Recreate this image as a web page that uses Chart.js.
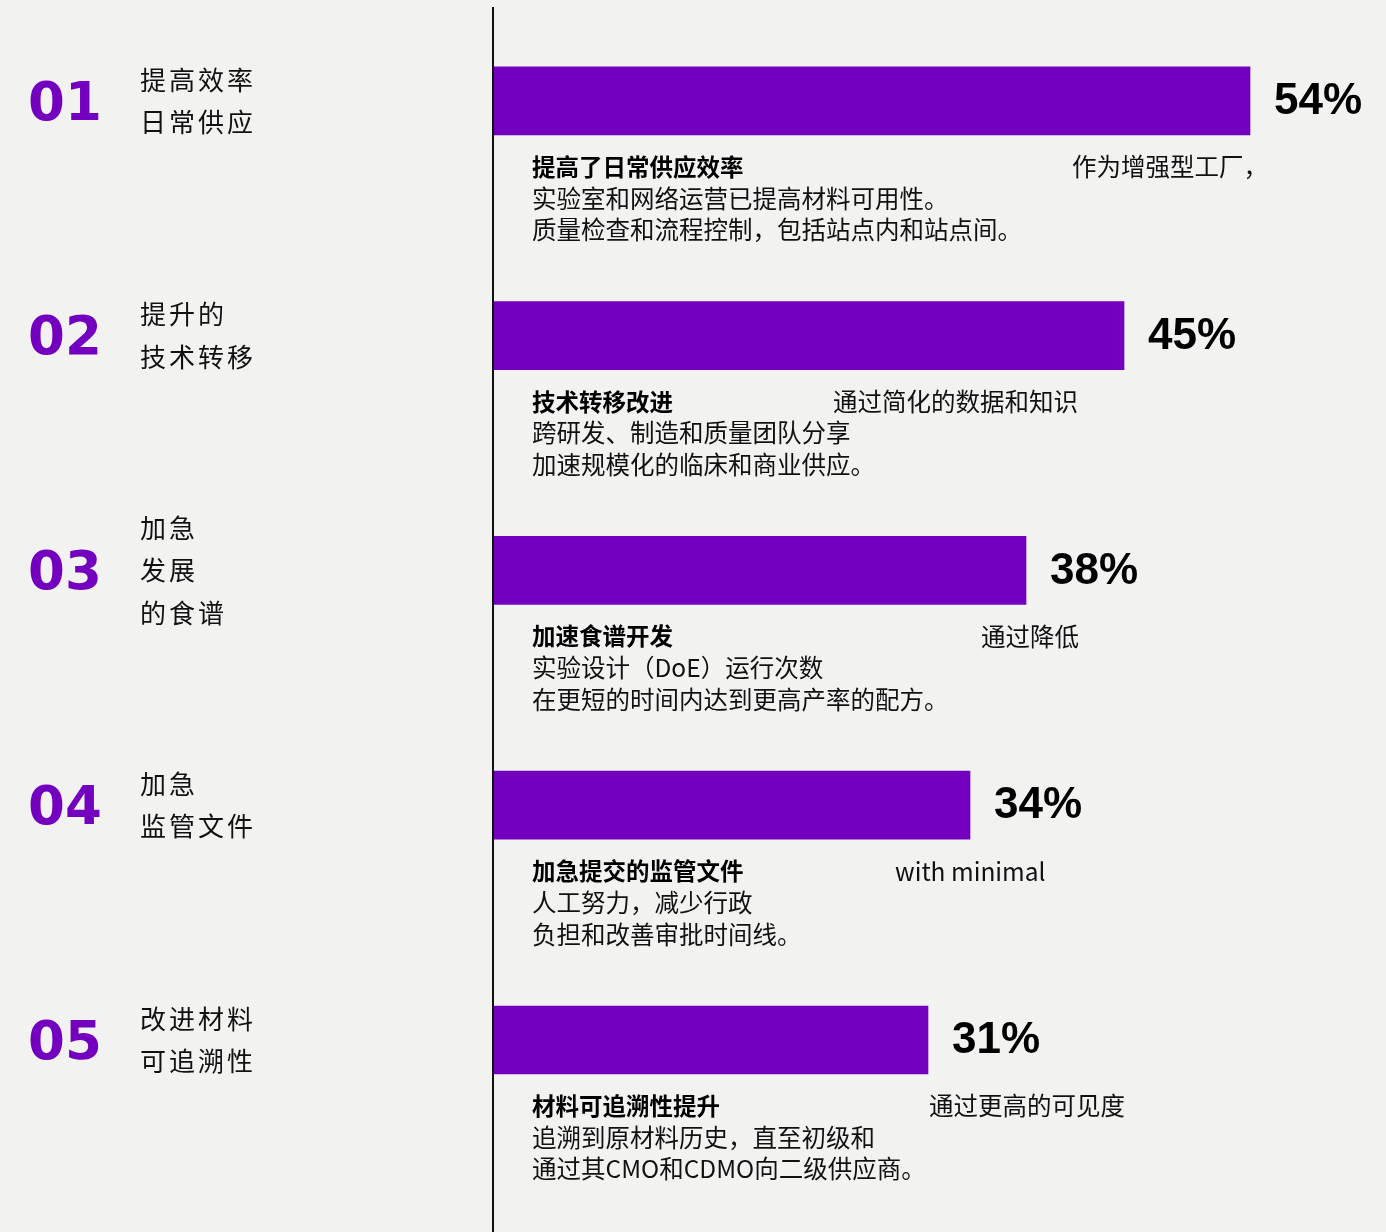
<!DOCTYPE html>
<html lang="zh">
<head>
<meta charset="utf-8">
<title>改进成效</title>
<script src="https://cdn.jsdelivr.net/npm/chart.js@4/dist/chart.umd.min.js"></script>
<style>
  html, body { margin: 0; padding: 0; background: #f2f2f1; }
  #wrap { width: 1386px; height: 1232px; position: relative; }
</style>
</head>
<body>
<div id="wrap"><canvas id="benefitsChart"></canvas></div>
<script>
// Share of respondents reporting each improvement (%)
const values = [54, 45, 38, 34, 31];
const numbers = ["01", "02", "03", "04", "05"];
const headings = [
  ["提高效率", "日常供应"],
  ["提升的", "技术转移"],
  ["加急", "发展", "的食谱"],
  ["加急", "监管文件"],
  ["改进材料", "可追溯性"],
];
const boldLeads = ["提高了日常供应效率", "技术转移改进", "加速食谱开发", "加急提交的监管文件", "材料可追溯性提升"];
const leadTails = ["作为增强型工厂，", "通过简化的数据和知识", "通过降低", "with minimal", "通过更高的可见度"];
const bodyLines = [
  ["实验室和网络运营已提高材料可用性。", "质量检查和流程控制，包括站点内和站点间。"],
  ["跨研发、制造和质量团队分享", "加速规模化的临床和商业供应。"],
  ["实验设计（DoE）运行次数", "在更短的时间内达到更高产率的配方。"],
  ["人工努力，减少行政", "负担和改善审批时间线。"],
  ["追溯到原材料历史，直至初级和", "通过其CMO和CDMO向二级供应商。"],
];

// where the second half of each bold line starts
const tailX = [1072, 833, 981, 895, 929];

const PURPLE = "#7400bf";
const CJK = '"Noto Sans CJK SC", "Noto Sans", sans-serif';

const annotations = {
  id: "annotations",
  beforeDatasetsDraw(chart) {
    const { ctx, chartArea } = chart;
    ctx.save();
    ctx.strokeStyle = "#111";
    ctx.lineWidth = 2;
    ctx.beginPath();
    ctx.moveTo(chartArea.left - 1, 7);
    ctx.lineTo(chartArea.left - 1, chart.height);
    ctx.stroke();
    ctx.restore();
  },
  afterDatasetsDraw(chart) {
    const { ctx, chartArea } = chart;
    const bars = chart.getDatasetMeta(0).data;
    ctx.save();
    bars.forEach((bar, i) => {
      const cy = bar.y;
      const bottom = cy + bar.height / 2;

      // big purple index number
      ctx.fillStyle = PURPLE;
      ctx.font = 'bold 53px "DejaVu Sans", sans-serif';
      ctx.textBaseline = "middle";
      ctx.textAlign = "left";
      ctx.fillText(numbers[i], 28, cy + 5);

      // heading lines, centred on the bar
      ctx.fillStyle = "#111";
      ctx.font = "26px " + CJK;
      ctx.letterSpacing = "3px";
      const lines = headings[i];
      const step = 42.5;
      lines.forEach((t, k) => {
        ctx.fillText(t, 140, cy + (k - (lines.length - 1) / 2) * step);
      });
      ctx.letterSpacing = "0px";

      // value label
      ctx.fillStyle = "#000";
      ctx.font = 'bold 44px "Liberation Sans", Arial, sans-serif';
      ctx.fillText(values[i] + "%", bar.x + 24, cy + 1);

      // description under the bar
      const tx = chartArea.left + 38;
      ctx.font = "bold 23.5px " + CJK;
      ctx.fillStyle = "#000";
      ctx.fillText(boldLeads[i], tx, bottom + 32);
      ctx.font = "24.5px " + CJK;
      ctx.fillStyle = "#111";
      ctx.fillText(leadTails[i], tailX[i], bottom + 32);
      bodyLines[i].forEach((t, k) => {
        ctx.fillText(t, tx, bottom + 32 + (k + 1) * 31.5);
      });
    });
    ctx.restore();
  },
};

new Chart(document.getElementById("benefitsChart"), {
  type: "bar",
  data: {
    datasets: [
      {
        data: values.map((v, i) => ({ x: v, y: i })),
        backgroundColor: PURPLE,
        barThickness: 68,
        borderWidth: 0,
      },
    ],
  },
  options: {
    indexAxis: "y",
    responsive: true,
    maintainAspectRatio: false,
    animation: false,
    layout: { padding: { left: 494, right: 3, top: 7, bottom: 0 } },
    scales: {
      x: { display: false, min: 0, max: 63.5 },
      y: { type: "linear", display: false, offset: false, reverse: true, min: -0.4, max: 4.818 },
    },
    plugins: {
      legend: { display: false },
      tooltip: { enabled: false },
    },
  },
  plugins: [annotations],
});
</script>
</body>
</html>
